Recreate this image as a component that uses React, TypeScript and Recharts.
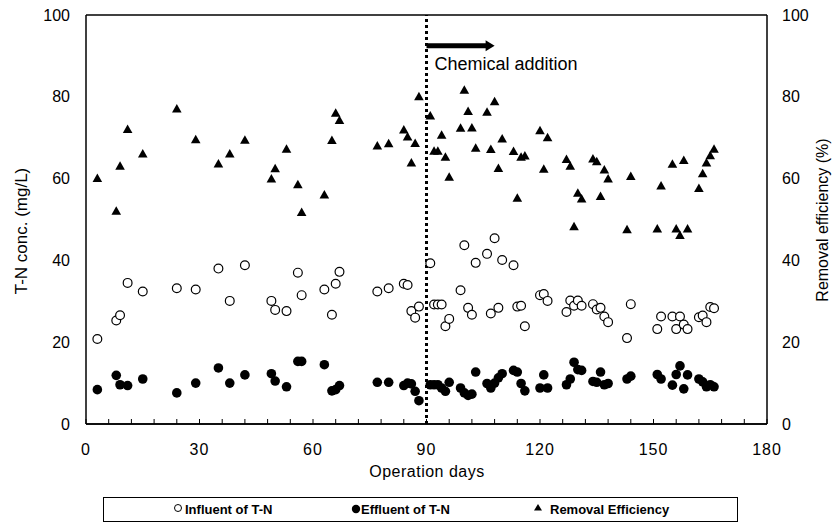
import { ScatterChart, Scatter, XAxis, YAxis, CartesianGrid, ReferenceLine } from "recharts";

// operation days where samples were taken
const days = [
  3, 8, 9, 11, 15, 24, 29, 35, 38, 42, 49, 50, 53, 56, 57, 63, 65, 66, 67, 77,
  80, 84, 85, 86, 87, 88, 91, 92, 93, 94, 95, 96, 99, 100, 101, 102, 103, 106, 107, 108,
  109, 110, 113, 114, 115, 116, 120, 121, 122, 127, 128, 129, 130, 131, 134, 135, 136, 137, 138, 143,
  144, 151, 152, 155, 156, 157, 158, 159, 162, 163, 164, 165, 166,
];

// T-N in (mg/L)
const influent = [
  20.8, 25.3, 26.6, 34.5, 32.4, 33.2, 32.9, 38, 30.1, 38.8, 30.1, 27.9, 27.6, 37, 31.5, 32.9, 26.7, 34.3, 37.2, 32.4,
  33.2, 34.3, 34, 27.6, 26, 28.7, 39.3, 29.2, 29.2, 29.2, 23.9, 25.7, 32.7, 43.7, 28.4, 26.7, 39.4, 41.6, 27, 45.4,
  28.4, 40.1, 38.8, 28.7, 28.9, 23.9, 31.5, 31.8, 30.1, 27.4, 30.2, 28.9, 30.2, 28.9, 29.3, 28, 28.4, 26.3, 24.9, 21,
  29.3, 23.2, 26.3, 26.3, 23.2, 26.3, 24.3, 23.2, 26.1, 26.5, 24.9, 28.6, 28.3,
];

// T-N out (mg/L)
const effluent = [
  8.4, 11.9, 9.6, 9.4, 11, 7.6, 10, 13.7, 10, 12, 12.3, 10.5, 9.1, 15.3, 15.3, 14.5, 8.1, 8.4, 9.4, 10.2,
  10.2, 9.4, 10, 9.8, 8, 5.7, 9.6, 9.6, 9.6, 8.8, 8, 10.2, 8.8, 7.6, 7, 7.3, 12.7, 9.9, 8.8, 10,
  11.3, 12.3, 13.1, 12.7, 9.9, 8.1, 8.8, 12, 8.8, 9.6, 11, 15.1, 13.3, 13.1, 10.4, 10.2, 12.7, 9.6, 9.9, 11,
  11.7, 12.1, 11, 9.5, 12.1, 14.2, 8.6, 12, 11, 10.3, 9.1, 9.6, 9.1,
];

// removal efficiency (%)
const removal = [
  60, 52, 63, 72, 66, 77, 69.5, 63.6, 66, 69.4, 59.9, 62.4, 67.2, 58.5, 51.7, 56, 69.3, 76, 74.2, 68,
  68.5, 71.9, 70.2, 63.8, 68.6, 80, 75.3, 66.7, 66.7, 70.6, 65.2, 60.3, 72.3, 81.6, 76.4, 72.4, 67.4, 76.2, 67.1, 78.8,
  62.5, 69.7, 66.6, 55.2, 65.2, 65.5, 71.7, 62.3, 70, 64.7, 63, 48.2, 56.4, 55, 64.8, 64.1, 55.6, 62.1, 59.9, 47.5,
  60.5, 47.7, 58.2, 63.5, 47.7, 46.1, 64.4, 47.7, 57.6, 61.2, 63.8, 65.6, 67.2,
];

const dayTicks = [
  0, 6, 12, 18, 24, 30, 36, 42, 48, 54, 60, 66, 72, 78, 84, 90,
  96, 102, 108, 114, 120, 126, 132, 138, 144, 150, 156, 162, 168, 174, 180,
];
const valueTicks = [0, 20, 40, 60, 80, 100];
const additionDay = 90;

const toPoints = (vals: number[]) => days.map((d, i) => ({ day: d, value: vals[i] }));

const FONT = "'Liberation Sans', Arial, sans-serif";

function DayTick({ x, y, payload }: any) {
  const v = payload.value;
  return (
    <g>
      <line x1={x} y1={y} x2={x} y2={y - 5} stroke="#000" strokeWidth={1} />
      {v % 30 === 0 && (
        <text x={x} y={y + 31} textAnchor="middle" fontSize={16} letterSpacing={1} fill="#000" fontFamily={FONT}>
          {v}
        </text>
      )}
    </g>
  );
}

function OpenCircle({ cx, cy }: any) {
  return <circle cx={cx} cy={cy} r={4.4} fill="#fff" stroke="#000" strokeWidth={1.2} />;
}

function FilledCircle({ cx, cy }: any) {
  return <circle cx={cx} cy={cy} r={4.8} fill="#000" />;
}

function Triangle({ cx, cy }: any) {
  return <polygon points={`${cx},${cy - 5} ${cx - 4.8},${cy + 3.5} ${cx + 4.8},${cy + 3.5}`} fill="#000" />;
}

function AdditionArrow({ x1, y1, x2, y2 }: any) {
  return (
    <g>
      <line x1={x1} y1={y1} x2={x2 - 8} y2={y2} stroke="#000" strokeWidth={5} />
      <polygon points={`${x2},${y2} ${x2 - 9},${y2 - 5.5} ${x2 - 9},${y2 + 5.5}`} fill="#000" />
      <text x={x1 + 8} y={y1 + 24} fontSize={18} fill="#000" fontFamily={FONT}>
        Chemical addition
      </text>
    </g>
  );
}

const legendText = { position: "absolute" as const, top: 4, fontSize: 13, fontWeight: 700, fontFamily: FONT };

function LegendBox() {
  return (
    <div
      style={{
        position: "absolute",
        left: 103,
        top: 497,
        width: 633,
        height: 23,
        border: "1.5px solid #000",
      }}
    >
      <svg width={633} height={23} style={{ position: "absolute", left: 0, top: 0 }}>
        <circle cx={74} cy={10} r={3.5} fill="#fff" stroke="#000" strokeWidth={1} />
        <circle cx={252} cy={11} r={4.2} fill="#000" />
        <polygon points="434,6 430,12.5 438,12.5" fill="#000" />
      </svg>
      <span style={{ ...legendText, left: 81 }}>Influent of T-N</span>
      <span style={{ ...legendText, left: 257 }}>Effluent of T-N</span>
      <span style={{ ...legendText, left: 446 }}>Removal Efficiency</span>
    </div>
  );
}

export default function App() {
  return (
    <div style={{ position: "absolute", left: 0, top: 0, width: 832, height: 524, background: "#fff", fontFamily: FONT }}>
      <ScatterChart width={832} height={524} margin={{ top: 15, right: 0, bottom: 60, left: 0 }}>
        <CartesianGrid vertical={false} stroke="#000" strokeWidth={1.5} />
        <XAxis
          type="number"
          dataKey="day"
          domain={[0, 180]}
          ticks={dayTicks}
          interval={0}
          tick={<DayTick />}
          tickLine={false}
          tickSize={0}
          tickMargin={0}
          height={40}
          axisLine={{ stroke: "#000", strokeWidth: 1.5 }}
          label={() => (
            <text x={427} y={477} textAnchor="middle" fontSize={16} letterSpacing={0.5} fill="#000" fontFamily={FONT}>
              Operation days
            </text>
          )}
        />
        <YAxis
          yAxisId="left"
          type="number"
          dataKey="value"
          domain={[0, 100]}
          ticks={valueTicks}
          width={86}
          tickLine={false}
          tickMargin={10}
          tick={{ fontSize: 16, fill: "#000", fontFamily: FONT }}
          axisLine={{ stroke: "#000", strokeWidth: 1.5 }}
          label={() => (
            <text
              x={21}
              y={231}
              transform="rotate(-90, 21, 231)"
              textAnchor="middle"
              dominantBaseline="central"
              fontSize={17}
              fill="#000"
              fontFamily={FONT}
            >
              T-N conc. (mg/L)
            </text>
          )}
        />
        <YAxis
          yAxisId="right"
          orientation="right"
          type="number"
          dataKey="value"
          domain={[0, 100]}
          ticks={valueTicks}
          width={65}
          tickLine={false}
          tickMargin={9}
          tick={{ fontSize: 16, fill: "#000", fontFamily: FONT }}
          axisLine={{ stroke: "#000", strokeWidth: 1.5 }}
          label={() => (
            <text
              x={822}
              y={220}
              transform="rotate(-90, 822, 220)"
              textAnchor="middle"
              dominantBaseline="central"
              fontSize={16}
              fill="#000"
              fontFamily={FONT}
            >
              Removal efficiency (%)
            </text>
          )}
        />
        <ReferenceLine yAxisId="left" x={additionDay} stroke="#000" strokeWidth={3} strokeDasharray="3 3" />
        <ReferenceLine
          yAxisId="left"
          segment={[
            { x: additionDay, y: 92.5 },
            { x: 108, y: 92.5 },
          ]}
          shape={(p: any) => <AdditionArrow {...p} />}
        />
        <Scatter yAxisId="left" name="Influent of T-N" data={toPoints(influent)} shape={<OpenCircle />} isAnimationActive={false} />
        <Scatter yAxisId="left" name="Effluent of T-N" data={toPoints(effluent)} shape={<FilledCircle />} isAnimationActive={false} />
        <Scatter yAxisId="right" name="Removal Efficiency" data={toPoints(removal)} shape={<Triangle />} isAnimationActive={false} />
      </ScatterChart>
      <LegendBox />
    </div>
  );
}
